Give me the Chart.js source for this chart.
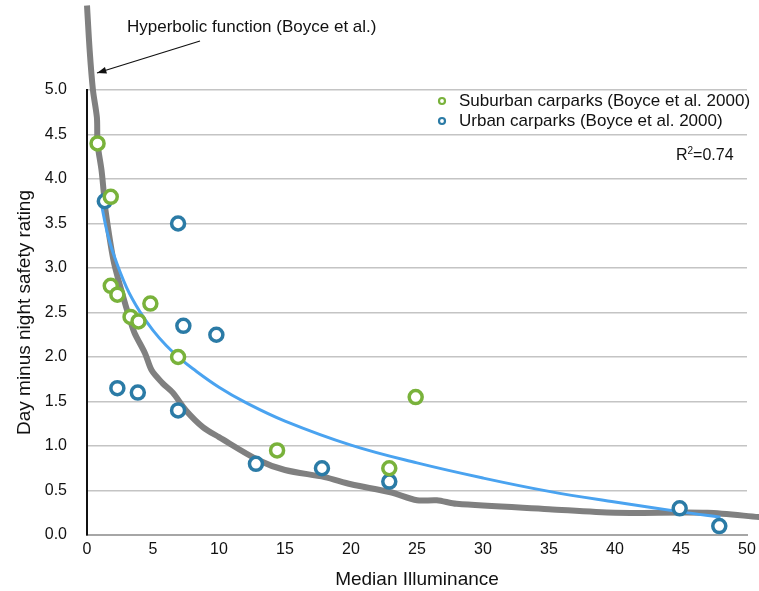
<!DOCTYPE html>
<html>
<head>
<meta charset="utf-8">
<script src="https://cdn.jsdelivr.net/npm/chart.js@4.4.1/dist/chart.umd.min.js"></script>
<style>
  html, body { margin: 0; padding: 0; background: #fff; }
  #wrap { width: 759px; height: 591px; }
</style>
</head>
<body>
<div id="wrap"><canvas id="safetyChart" width="759" height="591"></canvas></div>
<script>
// Suburban carparks (Boyce et al. 2000)
const suburbanX = [0.8, 1.8, 1.8, 2.3, 3.3, 3.9, 4.8, 6.9, 14.4, 22.9, 24.9];
const suburbanY = [4.40, 3.80, 2.80, 2.70, 2.45, 2.40, 2.60, 2.00, 0.95, 0.75, 1.55];

// Urban carparks (Boyce et al. 2000)
const urbanX = [1.35, 6.9, 7.3, 9.8, 2.3, 3.85, 6.9, 12.8, 17.8, 22.9, 44.9, 47.9];
const urbanY = [3.75, 3.50, 2.35, 2.25, 1.65, 1.60, 1.40, 0.80, 0.75, 0.60, 0.30, 0.10];

// Hyperbolic function (Boyce et al.) - grey curve
const hyperX = [0.0, 0.2, 0.45, 0.75, 0.8, 1.1, 1.25, 1.4, 2.0, 2.6, 3.25, 3.6, 4.4, 4.9, 5.7, 6.5, 7.5, 8.8, 10, 13, 15, 18, 20, 23, 25, 26.5, 28, 35, 40, 47, 51];
const hyperY = [5.95, 5.45, 5.00, 4.69, 4.40, 4.10, 3.88, 3.65, 3.09, 2.75, 2.42, 2.27, 2.04, 1.85, 1.71, 1.60, 1.40, 1.21, 1.10, 0.84, 0.73, 0.65, 0.57, 0.48, 0.39, 0.39, 0.35, 0.29, 0.25, 0.25, 0.20];

// Fitted trend (blue)
const trendX = [1.1, 1.5, 2, 3, 4, 5, 6, 7, 8, 10, 12, 15, 20, 25, 30, 35, 40, 45, 48];
const trendY = [3.71, 3.42, 3.16, 2.78, 2.51, 2.30, 2.13, 1.99, 1.87, 1.66, 1.49, 1.28, 1.01, 0.81, 0.64, 0.49, 0.37, 0.26, 0.20];

const xTicks = [0, 5, 10, 15, 20, 25, 30, 35, 40, 45, 50];
const yTicks = [0, 0.5, 1, 1.5, 2, 2.5, 3, 3.5, 4, 4.5, 5];

const greenCol = '#79b23b';
const blueCol = '#2b7ba6';
const FONT = '"Liberation Sans", Arial, Helvetica, sans-serif';

function toPoints(xs, ys) {
    return xs.map((x, i) => ({ x: x, y: ys[i] }));
}

// Annotation, arrow, legend and R² drawn on top of the chart
const extrasPlugin = {
    id: 'extras',
    afterDraw(chart) {
        const ctx = chart.ctx;
        ctx.save();

        // Label + arrow for the grey curve
        ctx.fillStyle = '#111';
        ctx.font = '17px ' + FONT;
        ctx.textBaseline = 'middle';
        ctx.textAlign = 'left';
        ctx.fillText('Hyperbolic function (Boyce et al.)', 127, 27);

        const tx = 200, ty = 41, hx = 97, hy = 73;
        ctx.strokeStyle = '#111';
        ctx.lineWidth = 1.2;
        ctx.beginPath();
        ctx.moveTo(tx, ty);
        ctx.lineTo(hx, hy);
        ctx.stroke();
        const ang = Math.atan2(hy - ty, hx - tx);
        ctx.beginPath();
        ctx.moveTo(hx, hy);
        ctx.lineTo(hx - 10 * Math.cos(ang - 0.35), hy - 10 * Math.sin(ang - 0.35));
        ctx.lineTo(hx - 10 * Math.cos(ang + 0.35), hy - 10 * Math.sin(ang + 0.35));
        ctx.closePath();
        ctx.fillStyle = '#111';
        ctx.fill();

        // Legend
        const items = [
            { label: 'Suburban carparks (Boyce et al. 2000)', color: greenCol, y: 101 },
            { label: 'Urban carparks (Boyce et al. 2000)', color: blueCol, y: 121 }
        ];
        items.forEach(it => {
            ctx.beginPath();
            ctx.arc(442, it.y, 3, 0, Math.PI * 2);
            ctx.fillStyle = '#fff';
            ctx.fill();
            ctx.lineWidth = 2.2;
            ctx.strokeStyle = it.color;
            ctx.stroke();
            ctx.fillStyle = '#111';
            ctx.font = '17px ' + FONT;
            ctx.fillText(it.label, 459, it.y);
        });

        // R² label
        ctx.font = '16px ' + FONT;
        ctx.fillStyle = '#111';
        ctx.fillText('R', 676, 156);
        const rw = ctx.measureText('R').width;
        ctx.font = '10px ' + FONT;
        ctx.fillText('2', 676 + rw, 151);
        const sw = ctx.measureText('2').width;
        ctx.font = '16px ' + FONT;
        ctx.fillText('=0.74', 676 + rw + sw, 156);

        ctx.restore();
    }
};

const ctx = document.getElementById('safetyChart').getContext('2d');
new Chart(ctx, {
    type: 'scatter',
    data: {
        datasets: [
            {
                label: 'Hyperbolic function (Boyce et al.)',
                type: 'line',
                data: toPoints(hyperX, hyperY),
                borderColor: '#808080',
                borderWidth: 6,
                pointRadius: 0,
                tension: 0.3,
                clip: false,
                order: 3
            },
            {
                label: 'Trend',
                type: 'line',
                data: toPoints(trendX, trendY),
                borderColor: '#4aa3f0',
                borderWidth: 3,
                pointRadius: 0,
                tension: 0.4,
                order: 2
            },
            {
                label: 'Urban carparks (Boyce et al. 2000)',
                data: toPoints(urbanX, urbanY),
                pointRadius: 6.5,
                pointBorderWidth: 3.5,
                pointBackgroundColor: '#fff',
                pointBorderColor: blueCol,
                clip: false,
                order: 1
            },
            {
                label: 'Suburban carparks (Boyce et al. 2000)',
                data: toPoints(suburbanX, suburbanY),
                pointRadius: 6.5,
                pointBorderWidth: 3.5,
                pointBackgroundColor: '#fff',
                pointBorderColor: greenCol,
                clip: false,
                order: 0
            }
        ]
    },
    options: {
        responsive: false,
        animation: false,
        layout: { padding: { top: 90, right: 12, left: 0, bottom: 0 } },
        plugins: {
            legend: { display: false },
            tooltip: { enabled: false }
        },
        scales: {
            x: {
                type: 'linear',
                min: 0,
                max: 50,
                afterBuildTicks: (axis) => { axis.ticks = xTicks.map(v => ({ value: v })); },
                afterFit: (axis) => {
                    axis.height = 56;
                    axis.paddingLeft = 0;
                    axis.paddingRight = 0;
                },
                ticks: {
                    color: '#111',
                    font: { family: FONT, size: 16 },
                    padding: 5
                },
                grid: { display: false, drawTicks: false },
                border: { display: true, color: '#a6a6a6', width: 2 },
                title: {
                    display: true,
                    text: 'Median Illuminance',
                    color: '#111',
                    font: { family: FONT, size: 19 },
                    padding: { top: 8, bottom: 0 }
                }
            },
            y: {
                type: 'linear',
                min: 0,
                max: 5,
                afterBuildTicks: (axis) => { axis.ticks = yTicks.map(v => ({ value: v })); },
                afterFit: (axis) => { axis.width = 87; },
                ticks: {
                    color: '#111',
                    font: { family: FONT, size: 16 },
                    padding: 20,
                    callback: (v) => v.toFixed(1)
                },
                grid: { color: '#c4c4c4', lineWidth: 1.5, drawTicks: false },
                border: { display: true, color: '#111', width: 2 },
                title: {
                    display: true,
                    text: 'Day minus night safety rating',
                    color: '#111',
                    font: { family: FONT, size: 19 },
                    padding: { top: 13, bottom: 4 }
                }
            }
        }
    },
    plugins: [extrasPlugin]
});
</script>
</body>
</html>
